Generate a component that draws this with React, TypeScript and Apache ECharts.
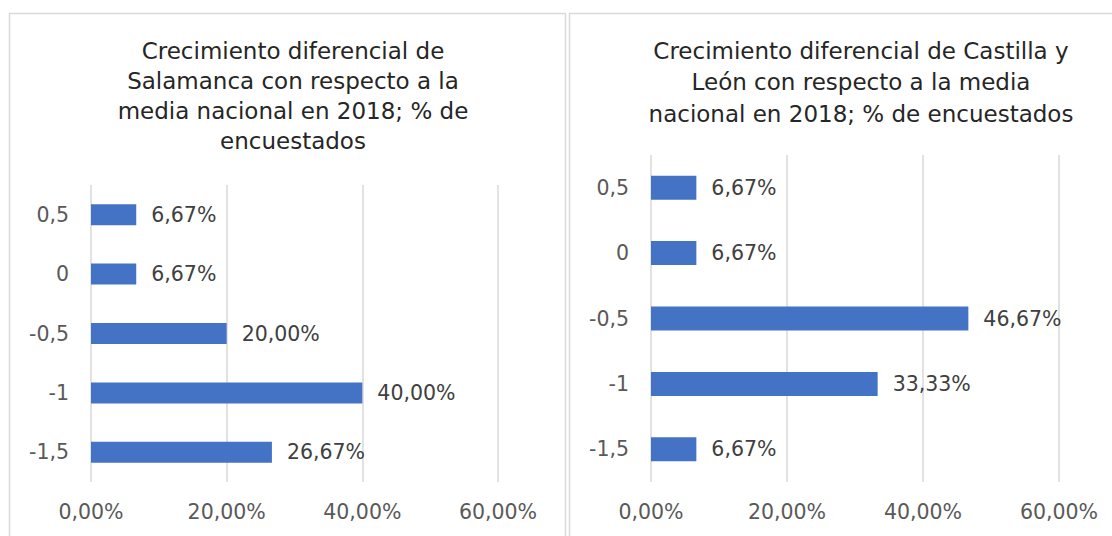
import React, { useEffect, useRef } from "react";
import * as echarts from "echarts";

const categories = ["-1,5", "-1", "-0,5", "0", "0,5"];
const salamancaValues = [26.67, 40.0, 20.0, 6.67, 6.67];
const castillaValues = [6.67, 33.33, 46.67, 6.67, 6.67];
const xTicks = { min: 0, max: 60, interval: 20 };
const titleLeft = "Crecimiento diferencial de\nSalamanca con respecto a la\nmedia nacional en 2018; % de\nencuestados";
const titleRight = "Crecimiento diferencial de Castilla y\nLeón con respecto a la media\nnacional en 2018; % de encuestados";

const FONT = "DejaVu Sans";
const LABEL_SIZE = 20.5;
const fmt = (v: number) => v.toFixed(2).replace(".", ",") + "%";

export default function App() {
  const ref = useRef<HTMLDivElement>(null);
  useEffect(() => {
    if (!ref.current) return;
    const chart = echarts.init(ref.current, undefined, { renderer: "svg" });
    const xAxisBase = (gridIndex: number) => ({
      type: "value" as const,
      gridIndex,
      min: xTicks.min,
      max: xTicks.max,
      interval: xTicks.interval,
      axisLine: { show: false },
      axisTick: { show: false },
      splitLine: { show: true, lineStyle: { color: "#d9d9d9", width: 1.5 } },
      axisLabel: { formatter: (v: number) => fmt(v), color: "#595959", fontSize: LABEL_SIZE, fontFamily: FONT, margin: 19 },
    });
    const yAxisBase = (gridIndex: number) => ({
      type: "category" as const,
      gridIndex,
      data: categories,
      axisLine: { show: false },
      axisTick: { show: false },
      axisLabel: { color: "#595959", fontSize: LABEL_SIZE, fontFamily: FONT, margin: 22 },
    });
    const barBase = (idx: number, data: number[], bw: number) => ({
      type: "bar" as const,
      xAxisIndex: idx,
      yAxisIndex: idx,
      data,
      barWidth: bw,
      itemStyle: { color: "#4472c4" },
      label: {
        show: true,
        position: "right" as const,
        distance: 15,
        formatter: (p: any) => fmt(p.value),
        color: "#404040",
        fontSize: LABEL_SIZE,
        fontFamily: FONT,
      },
    });
    chart.setOption({
      animation: false,
      backgroundColor: "#ffffff",
      graphic: [
        { type: "rect", shape: { x: 9.5, y: 13.5, width: 556, height: 540 }, style: { fill: "none", stroke: "#d9d9d9", lineWidth: 1.5 } },
        { type: "rect", shape: { x: 569.5, y: 13.5, width: 560, height: 540 }, style: { fill: "none", stroke: "#d9d9d9", lineWidth: 1.5 } },
      ],
      title: [
        {
          text: titleLeft,
          left: 288,
          top: 31,
          textAlign: "center",
          textStyle: { fontFamily: FONT, fontSize: 23, fontWeight: "normal", color: "#262626", lineHeight: 30 },
        },
        {
          text: titleRight,
          left: 856,
          top: 30,
          textAlign: "center",
          textStyle: { fontFamily: FONT, fontSize: 23, fontWeight: "normal", color: "#262626", lineHeight: 31.5 },
        },
      ],
      grid: [
        { left: 91, width: 407, top: 185, height: 297 },
        { left: 651, width: 408, top: 155, height: 327 },
      ],
      xAxis: [xAxisBase(0), xAxisBase(1)],
      yAxis: [yAxisBase(0), yAxisBase(1)],
      series: [barBase(0, salamancaValues, 21), barBase(1, castillaValues, 24)],
    });
    return () => chart.dispose();
  }, []);
  return <div ref={ref} style={{ position: "fixed", left: 0, top: 0, width: 1112, height: 536 }} />;
}
